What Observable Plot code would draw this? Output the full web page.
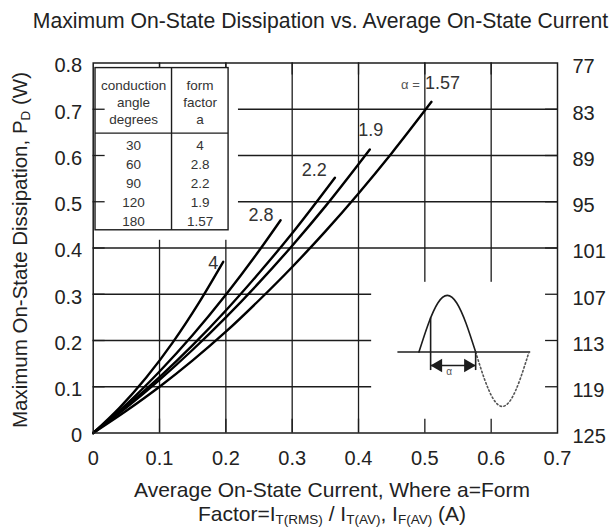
<!DOCTYPE html>
<html><head><meta charset="utf-8">
<script src="https://cdn.jsdelivr.net/npm/d3@7"></script>
<script src="https://cdn.jsdelivr.net/npm/@observablehq/plot@0.6"></script>
<style>
body{margin:0;background:#fff;}
#title{position:relative;top:2px;height:38px;width:612px;font-family:"Liberation Sans",Arial,sans-serif;font-size:21.2px;color:#222;text-align:center;line-height:38px;padding-left:29px;box-sizing:border-box;white-space:nowrap}
#chart svg{display:block}
</style></head><body>
<div id="title">Maximum On-State Dissipation vs. Average On-State Current</div>
<div id="chart"></div>
<script>
// ---- data ----
const xTicks = [0, 0.1, 0.2, 0.3, 0.4, 0.5, 0.6, 0.7];
const yTicks = [0, 0.1, 0.2, 0.3, 0.4, 0.5, 0.6, 0.7, 0.8];
const rightLabels = ["125", "119", "113", "107", "101", "95", "89", "83", "77"];
const gridX = [0.1, 0.2, 0.3, 0.4, 0.5, 0.6];
const gridY = [0.1, 0.2, 0.3, 0.4, 0.5, 0.6, 0.7];

const formFactors = ["4", "2.8", "2.2", "1.9", "1.57"];
// [average current (A), dissipation (W)]
const curveA4   = [[0,0],[0.04,0.055],[0.08,0.12],[0.12,0.196],[0.16,0.283],[0.196,0.37]];
const curveA28  = [[0,0],[0.05,0.062],[0.1,0.133],[0.15,0.212],[0.2,0.299],[0.25,0.394],[0.2825,0.46]];
const curveA22  = [[0,0],[0.05,0.058],[0.1,0.121],[0.15,0.19],[0.2,0.265],[0.25,0.346],[0.3,0.432],[0.3644,0.552]];
const curveA19  = [[0,0],[0.05,0.055],[0.1,0.115],[0.15,0.18],[0.2,0.25],[0.25,0.325],[0.3,0.405],[0.35,0.49],[0.417,0.613]];
const curveA157 = [[0,0],[0.05,0.048],[0.1,0.1],[0.15,0.157],[0.2,0.219],[0.25,0.287],[0.3,0.359],[0.35,0.436],[0.4,0.518],[0.45,0.605],[0.51,0.716]];
const curves = [curveA4, curveA28, curveA22, curveA19, curveA157];

const conductionAngles = ["30", "60", "90", "120", "180"];
const tableFormFactors = ["4", "2.8", "2.2", "1.9", "1.57"];
const headerAngle = "conduction\nangle\ndegrees";
const headerForm = "form\nfactor\na";

// schematic waveform of the inset (phase in degrees, relative amplitude)
const wavePhase = [0, 30, 60, 90, 120, 150, 180];
const waveSine  = [0, 0.5, 0.866, 1, 0.866, 0.5, 0];
const firingAmp = 0.6;

// ---- layout (data units of the chart) ----
const tableBox = {x1: 0.0035, x2: 0.2041, y1: 0.4383, y2: 0.789, div: 0.1181, head: 0.6483,
                  c1: 0.0609, c2: 0.1611, headY: 0.7175, row0: 0.6223, rowStep: 0.0415};
const tableCover = {x1: 0, x2: 0.219, y1: 0.4167, y2: 0.789};
const insetCover = {x1: 0.4198, x2: 0.7, y1: 0, y2: 0.3258};
const inset = {x0: 0.4911, w: 0.0855, w2: 0.0804, base: 0.175, amp: 0.1226, amp2: 0.1176,
               lineX1: 0.4594, lineX2: 0.6596, fire: 0.5087, extBottom: 0.135, arrowY: 0.1461,
               headOff: 0.0115, alphaX: 0.5366, alphaY: 0.1316};
const tickLx = 0.018, tickLy = 0.026, tickLyB = 0.03;
const labelOffsets = [{dx:-10,dy:1},{dx:-19.5,dy:-5},{dx:-20.6,dy:-7.7},{dx:1,dy:-19},{dx:11,dy:-18.7}];

const ink = "#1c1c1c";
const rows = curves.flatMap((c, k) => c.map(([I, P]) => ({a: formFactors[k], I, P})));
const ends = curves.map((c, k) => ({a: formFactors[k], I: c[c.length - 1][0], P: c[c.length - 1][1]}));
const rightMap = new Map(yTicks.map((v, i) => [v, rightLabels[i]]));
const fmt = d => d === 0 ? "0" : d.toFixed(1);

const posHalf = wavePhase.map((p, i) => ({x: inset.x0 + p / 180 * inset.w, y: inset.base + inset.amp * waveSine[i]}));
const negHalf = wavePhase.map((p, i) => ({x: inset.x0 + inset.w + p / 180 * inset.w2, y: inset.base - inset.amp2 * waveSine[i]}));
const zeroX = inset.x0 + inset.w;

const plot = Plot.plot({
  width: 612, height: 491,
  marginLeft: 92.7, marginRight: 55, marginTop: 24.5, marginBottom: 96.5,
  style: {fontFamily: "'Liberation Sans', Arial, sans-serif", fontSize: "20px", color: "#222", background: "#fff"},
  x: {domain: [0, 0.7]},
  y: {domain: [0, 0.8]},
  marks: [
    Plot.ruleY(gridY, {stroke: ink, strokeWidth: 1.3}),
    Plot.ruleX(gridX, {stroke: ink, strokeWidth: 1.3}),
    Plot.ruleX(gridX, {y1: 0.8 - tickLy, y2: 0.8, stroke: ink, strokeWidth: 1.3}),
    Plot.rect([tableCover], {x1: "x1", x2: "x2", y1: "y1", y2: "y2", fill: "white"}),
    Plot.rect([insetCover], {x1: "x1", x2: "x2", y1: "y1", y2: "y2", fill: "white"}),
    Plot.ruleY(gridY, {x1: 0, x2: tickLx, stroke: ink, strokeWidth: 1.3}),
    Plot.ruleY(gridY, {x1: 0.7 - tickLx, x2: 0.7, stroke: ink, strokeWidth: 1.3}),
    Plot.ruleX(gridX, {y1: 0, y2: tickLyB, stroke: ink, strokeWidth: 1.3}),
    // table
    Plot.rect([tableBox], {x1: "x1", x2: "x2", y1: "y1", y2: "y2", fill: "none", stroke: ink, strokeWidth: 1.4}),
    Plot.ruleX([tableBox.div], {y1: tableBox.y1, y2: tableBox.y2, stroke: ink, strokeWidth: 1.4}),
    Plot.ruleY([tableBox.head], {x1: tableBox.x1, x2: tableBox.x2, stroke: ink, strokeWidth: 1.4}),
    Plot.text([headerAngle], {text: d => d, x: tableBox.c1, y: tableBox.headY, fontSize: 13.5, lineHeight: 1.27, fill: "#333"}),
    Plot.text([headerForm], {text: d => d, x: tableBox.c2, y: tableBox.headY, fontSize: 13.5, lineHeight: 1.27, fill: "#333"}),
    Plot.text(conductionAngles, {text: d => d, x: tableBox.c1, y: (d, i) => tableBox.row0 - i * tableBox.rowStep, fontSize: 13.5, fill: "#333"}),
    Plot.text(tableFormFactors, {text: d => d, x: tableBox.c2, y: (d, i) => tableBox.row0 - i * tableBox.rowStep, fontSize: 13.5, fill: "#333"}),
    // curves
    Plot.line(rows, {x: "I", y: "P", z: "a", curve: "monotone-x", stroke: "#000", strokeWidth: 2.4}),
    ...ends.map((e, k) => Plot.text([e], {x: "I", y: "P", text: "a", dx: labelOffsets[k].dx, dy: labelOffsets[k].dy, fontSize: 18, fill: "#333"})),
    Plot.text([ends[4]], {x: "I", y: "P", text: () => "α =", dx: -21, dy: -17, fontSize: 13, fill: "#555"}),
    // inset waveform
    Plot.ruleY([inset.base], {x1: inset.lineX1, x2: inset.lineX2, stroke: ink, strokeWidth: 1.5}),
    Plot.line(posHalf, {x: "x", y: "y", curve: "natural", stroke: ink, strokeWidth: 1.6}),
    Plot.line(negHalf, {x: "x", y: "y", curve: "natural", stroke: "#555", strokeWidth: 1.6, strokeDasharray: "1.5,2.5"}),
    Plot.ruleX([inset.fire], {y1: inset.extBottom, y2: inset.base + inset.amp * firingAmp, stroke: ink, strokeWidth: 1.6}),
    Plot.ruleX([zeroX], {y1: inset.extBottom, y2: inset.base, stroke: ink, strokeWidth: 1.6}),
    Plot.ruleY([inset.arrowY], {x1: inset.fire, x2: zeroX, stroke: ink, strokeWidth: 1.6}),
    Plot.dot([{x: inset.fire + inset.headOff, r: -90}, {x: zeroX - inset.headOff, r: 90}],
      {x: "x", y: inset.arrowY, symbol: "triangle", r: 5, rotate: "r", fill: ink, stroke: "none"}),
    Plot.text(["α"], {text: d => d, x: inset.alphaX, y: inset.alphaY, fontSize: 10, fill: "#555"}),
    Plot.frame({stroke: ink, strokeWidth: 1.5}),
    Plot.axisX(xTicks, {anchor: "bottom", tickSize: 0, tickPadding: 18, tickFormat: fmt, fontSize: 20, fill: "#222", label: null}),
    Plot.axisY(yTicks, {anchor: "left", tickSize: 0, tickPadding: 11, dy: 3, tickFormat: fmt, fontSize: 20, fill: "#222", label: null}),
    Plot.axisY(yTicks, {anchor: "right", tickSize: 0, tickPadding: 15, dy: 4, tickFormat: d => rightMap.get(d), fontSize: 20, fill: "#222", label: null})
  ]
});
document.getElementById("chart").appendChild(plot);

// axis titles with subscripts
const svg = d3.select(plot);
const font = "'Liberation Sans', Arial, sans-serif";
function addText(x, y, rotate, size, parts) {
  const t = svg.append("text")
    .attr("transform", `translate(${x},${y})` + (rotate ? ` rotate(${rotate})` : ""))
    .attr("text-anchor", "middle").attr("font-family", font).attr("font-size", size).attr("fill", "#222");
  let inSub = false;
  parts.forEach(([s, sub]) => {
    const sp = t.append("tspan").text(s);
    if (sub) { sp.attr("font-size", 13.5).attr("dy", inSub ? 0 : 3); inSub = true; }
    else { if (inSub) sp.attr("dy", -3); inSub = false; }
  });
}
addText(27, 212, -90, 20.5, [["Maximum On-State Dissipation, P"], ["D", true], [" (W)"]]);
addText(332, 458.5, 0, 21, [["Average On-State Current, Where a=Form"]]);
addText(332, 483, 0, 21, [["Factor=I"], ["T(RMS)", true], [" / I"], ["T(AV)", true], [", I"], ["F(AV)", true], [" (A)"]]);
</script></body></html>
